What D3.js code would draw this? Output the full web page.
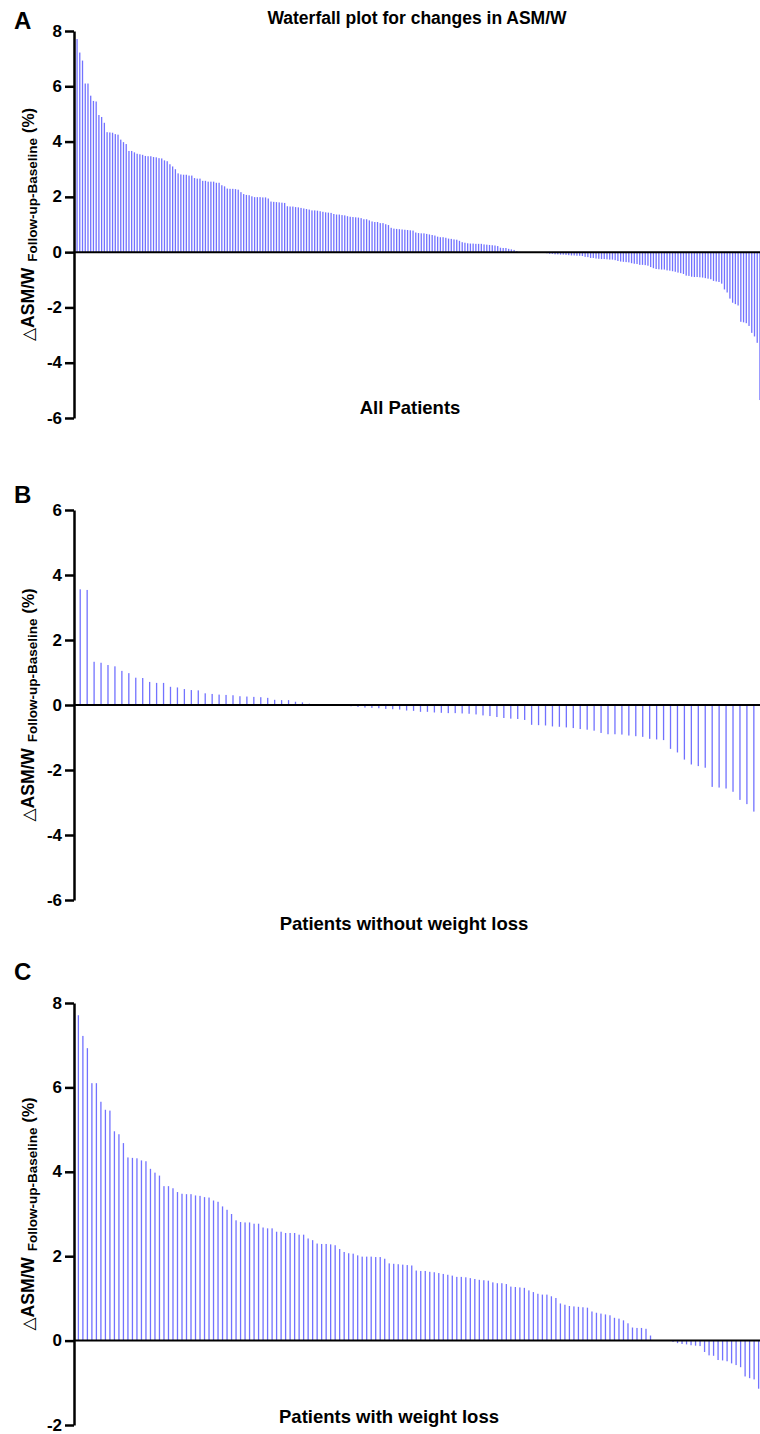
<!DOCTYPE html>
<html>
<head>
<meta charset="utf-8">
<script src="https://cdn.jsdelivr.net/npm/d3@7"></script>
<style>
  body { margin: 0; background: #fff; }
  text { font-family: "Liberation Sans", Arial, sans-serif; font-weight: bold; fill: #000; }
</style>
</head>
<body>
<div id="chart"></div>
<script>
// change in ASM/W (%) per patient, sorted high to low
var withoutLoss = [
  3.56, 3.54, 1.33, 1.30, 1.23, 1.19, 1.05, 0.98, 0.84, 0.83,
  0.71, 0.68, 0.68, 0.56, 0.54, 0.49, 0.46, 0.45, 0.36, 0.34,
  0.32, 0.31, 0.30, 0.27, 0.26, 0.25, 0.24, 0.22, 0.16, 0.15,
  0.15, 0.10, 0.08, 0.04, 0.01, 0, 0, -0.01, -0.03, -0.04,
  -0.06, -0.08, -0.09, -0.10, -0.12, -0.13, -0.14, -0.17, -0.18, -0.21,
  -0.21, -0.23, -0.24, -0.25, -0.25, -0.26, -0.27, -0.29, -0.32, -0.34,
  -0.37, -0.40, -0.42, -0.43, -0.46, -0.61, -0.62, -0.63, -0.66, -0.67,
  -0.69, -0.71, -0.74, -0.76, -0.79, -0.86, -0.90, -0.90, -0.91, -0.94,
  -0.96, -0.98, -1.04, -1.06, -1.08, -1.35, -1.46, -1.68, -1.83, -1.88,
  -1.93, -2.52, -2.54, -2.57, -2.67, -2.92, -3.05, -3.28, -5.35
];

var withLoss = [
  7.71, 7.22, 6.93, 6.10, 6.10, 5.66, 5.47, 5.45, 4.96, 4.89, 4.68,
  4.34, 4.33, 4.32, 4.27, 4.25, 4.07, 3.98, 3.91, 3.66, 3.66,
  3.61, 3.52, 3.48, 3.47, 3.47, 3.44, 3.43, 3.40, 3.39, 3.32,
  3.29, 3.18, 3.10, 3.00, 2.85, 2.81, 2.80, 2.80, 2.77, 2.77,
  2.68, 2.66, 2.66, 2.58, 2.58, 2.55, 2.55, 2.55, 2.51, 2.51,
  2.42, 2.38, 2.30, 2.29, 2.29, 2.28, 2.26, 2.17, 2.10, 2.07,
  2.06, 2.02, 1.99, 1.99, 1.99, 1.98, 1.98,
  1.94, 1.83, 1.82, 1.81, 1.80, 1.79, 1.78,
  1.66, 1.65, 1.65, 1.63, 1.62, 1.60, 1.58, 1.56, 1.54,
  1.51, 1.51, 1.50, 1.48, 1.46, 1.44, 1.43, 1.42,
  1.38, 1.36, 1.36, 1.34, 1.28, 1.27, 1.26, 1.25,
  1.19, 1.15, 1.11, 1.09, 1.09, 1.05, 1.01,
  0.88, 0.85, 0.82, 0.81, 0.80, 0.79, 0.78,
  0.69, 0.66, 0.64, 0.62, 0.60, 0.54, 0.52, 0.48, 0.41,
  0.31, 0.30, 0.30, 0.28, 0.12, 0, 0, 0, 0,
  -0.03, -0.06, -0.08, -0.09, -0.11, -0.12, -0.13,
  -0.27, -0.35, -0.36, -0.46, -0.47, -0.49, -0.54, -0.58, -0.63,
  -0.85, -0.89, -0.92, -1.14
];

// all patients = both groups together
var allPatients = withoutLoss.concat(withLoss).sort(function(a, b) { return b - a; });

var yDomains = [[-6, 8], [-6, 6], [-2, 8]];
var letters = ['A', 'B', 'C'];
var xLabels = ['All Patients', 'Patients without weight loss', 'Patients with weight loss'];

var width = 760, height = 1434;
var barColor = '#7272ff';

var svg = d3.select('#chart')
  .append('svg')
    .attr('width', width)
    .attr('height', height);

// layout of each panel (pixels); right end of the bar band runs past the crop
var layout = [
  {data: allPatients, top: 31, bottom: 418, xEnd: 762, letterY: 29, labX: 410, labY: 414},
  {data: withoutLoss, top: 510, bottom: 900, xEnd: 766, letterY: 503, labX: 404, labY: 930},
  {data: withLoss, top: 1003, bottom: 1425, xEnd: 762, letterY: 980, labX: 389, labY: 1423}
];

var axisX = 74;

svg.append('text')
  .attr('x', 417)
  .attr('y', 24)
  .attr('text-anchor', 'middle')
  .style('font-size', '17.5px')
  .text('Waterfall plot for changes in ASM/W');

layout.forEach(function(p, k) {
  var g = svg.append('g');
  var dom = yDomains[k];

  var y = d3.scaleLinear()
    .domain(dom)
    .range([p.bottom, p.top]);

  var x = d3.scaleBand()
    .domain(d3.range(p.data.length))
    .range([axisX + 1, p.xEnd])
    .paddingOuter(0.25);

  var bw = 1.3;
  g.selectAll('rect')
    .data(p.data)
    .enter()
    .append('rect')
      .attr('x', function(d, i) { return x(i) + x.bandwidth() / 2 - bw / 2; })
      .attr('y', function(d) { return Math.min(y(d), y(0)); })
      .attr('width', bw)
      .attr('height', function(d) { return Math.abs(y(d) - y(0)); })
      .style('fill', barColor);

  // zero line
  g.append('line')
    .attr('x1', axisX)
    .attr('x2', width)
    .attr('y1', y(0))
    .attr('y2', y(0))
    .style('stroke', '#000')
    .style('stroke-width', 2);

  var axis = g.append('g')
    .attr('transform', 'translate(' + axisX + ',0)')
    .call(d3.axisLeft(y)
      .tickValues(d3.range(dom[0], dom[1] + 1, 2))
      .tickFormat(function(d) { return String(d); })
      .tickSize(9)
      .tickSizeOuter(0)
      .tickPadding(3));
  axis.select('.domain').style('stroke-width', 2.5);
  axis.selectAll('.tick line').style('stroke-width', 2.5);
  axis.selectAll('.tick text')
    .attr('dy', '0.3em')
    .style('font-size', '17px')
    .style('font-family', '"Liberation Sans", Arial, sans-serif')
    .style('font-weight', 'bold');

  // y label with subscript
  var lab = g.append('text')
    .attr('transform', 'translate(34,' + ((p.top + p.bottom) / 2) + ') rotate(-90)')
    .attr('text-anchor', 'middle');
  lab.append('tspan')
    .style('font-size', '17px')
    .style('font-family', '"DejaVu Sans", sans-serif')
    .style('font-weight', 'normal')
    .text('△');
  lab.append('tspan')
    .style('font-size', '17.5px')
    .text('ASM/W');
  lab.append('tspan')
    .attr('dx', 6)
    .attr('dy', 3)
    .style('font-size', '13.5px')
    .text('Follow-up-Baseline');
  lab.append('tspan')
    .attr('dx', 5)
    .attr('dy', -3)
    .style('font-size', '16px')
    .text('(%)');

  g.append('text')
    .attr('x', p.labX)
    .attr('y', p.labY)
    .attr('text-anchor', 'middle')
    .style('font-size', '18.5px')
    .text(xLabels[k]);

  g.append('text')
    .attr('x', 14)
    .attr('y', p.letterY)
    .style('font-size', '24px')
    .text(letters[k]);
});
</script>
</body>
</html>
